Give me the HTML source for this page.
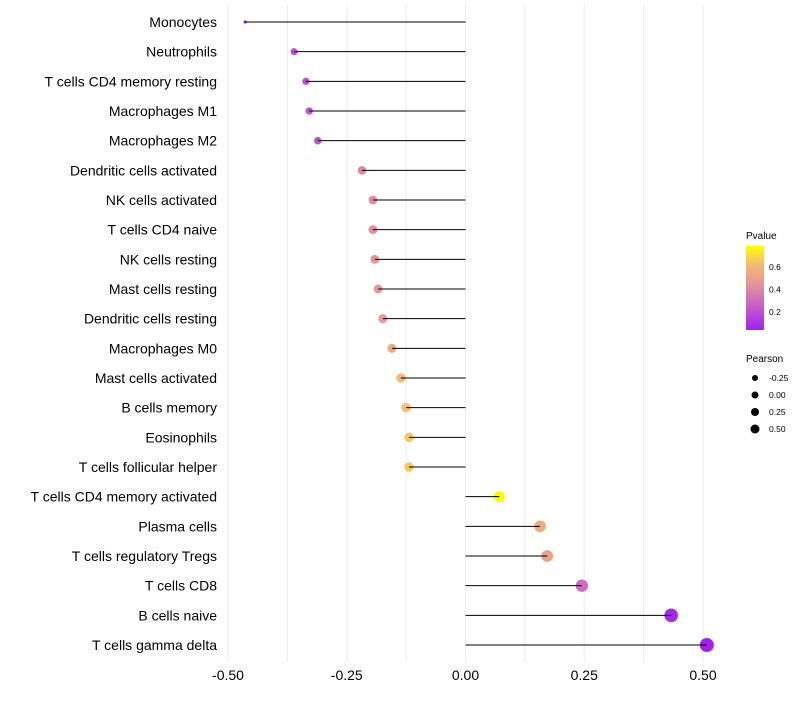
<!DOCTYPE html>
<html><head><meta charset="utf-8"><style>
body{margin:0;background:#fff;font-family:"Liberation Sans",sans-serif}
</style></head><body>
<svg id="c" width="800" height="700" xmlns="http://www.w3.org/2000/svg"></svg>
<script>
const cells=["Monocytes","Neutrophils","T cells CD4 memory resting","Macrophages M1","Macrophages M2","Dendritic cells activated","NK cells activated","T cells CD4 naive","NK cells resting","Mast cells resting","Dendritic cells resting","Macrophages M0","Mast cells activated","B cells memory","Eosinophils","T cells follicular helper","T cells CD4 memory activated","Plasma cells","T cells regulatory  Tregs","T cells CD8","B cells naive","T cells gamma delta"];
const pearson=[-0.464,-0.361,-0.336,-0.329,-0.311,-0.218,-0.195,-0.195,-0.191,-0.184,-0.174,-0.155,-0.136,-0.125,-0.119,-0.119,0.071,0.157,0.172,0.245,0.433,0.508];
const pvals=[0.04,0.2,0.2,0.21,0.22,0.4,0.43,0.43,0.44,0.46,0.48,0.55,0.6,0.64,0.66,0.66,0.78,0.55,0.5,0.3,0.07,0.04];
const xTicks=[-0.5,-0.25,0,0.25,0.5];
const xTickLabels=["-0.50","-0.25","0.00","0.25","0.50"];
const pTicks=[0.2,0.4,0.6];
const rTicks=[-0.25,0,0.25,0.5];
const rTickLabels=["-0.25","0.00","0.25","0.50"];
const NS="http://www.w3.org/2000/svg",svg=document.getElementById('c');
function el(t,a,p){const e=document.createElementNS(NS,t);for(const k in a)e.setAttribute(k,a[k]);(p||svg).appendChild(e);return e;}
const x=v=>465.5+v*475;
const y=i=>22+i*(623/21);
const rad=v=>v<-0.42?1.6:Math.sqrt(Math.max(2,27.6+42.7*v));
const lrad=v=>3.5+v*2;
const stops=[[0,[160,32,240]],[0.33,[204,104,196]],[0.55,[230,150,150]],[0.8,[244,192,110]],[1,[255,255,0]]];
function col(p){const t=Math.max(0,Math.min(1,(p-0.04)/(0.787-0.04)));
 for(let i=1;i<stops.length;i++){if(t<=stops[i][0]){const a=stops[i-1],b=stops[i];const f=(t-a[0])/(b[0]-a[0]);
 return 'rgb('+a[1].map((c,k)=>Math.round(c+(b[1][k]-c)*f))+')';}}return 'rgb(255,255,0)';}
[-0.5,-0.375,-0.25,-0.125,0,0.125,0.25,0.375,0.5].forEach(v=>{const g=el('line',{x1:x(v),x2:x(v),y1:5,y2:662,stroke:'#ebebeb','stroke-width':1});});
xTicks.forEach((v,i)=>{const t=el('text',{x:x(v),y:680,'text-anchor':'middle','font-size':14,fill:'#000'});t.textContent=xTickLabels[i];});
cells.forEach((c,i)=>{
 const t=el('text',{x:217,y:y(i)+5,'text-anchor':'end','font-size':14,fill:'#000'});t.textContent=c;
 
 const d=el('circle',{cx:x(pearson[i]),cy:y(i),r:rad(pearson[i]),fill:col(pvals[i])});
 
 const l=el('line',{x1:x(0),x2:x(pearson[i]),y1:y(i),y2:y(i),stroke:'#000','stroke-width':1});
 
});
const defs=el('defs',{});const lg=el('linearGradient',{id:'g',x1:0,y1:1,x2:0,y2:0},defs);
[0,0.2,0.4,0.6,0.8,1].forEach(o=>el('stop',{offset:o,'stop-color':col(0.04+o*(0.787-0.04))},lg));
let tt=el('text',{x:746,y:239,'font-size':10});tt.textContent='Pvalue';
const bar=el('rect',{x:746,y:246,width:18,height:84,fill:'url(#g)'});
const py=p=>330-(p-0.04)*112.5;
pTicks.forEach(p=>{const t=el('text',{x:769,y:py(p)+3,'font-size':8.5});t.textContent=p.toFixed(1);});
tt=el('text',{x:746,y:362,'font-size':10});tt.textContent='Pearson';
rTicks.forEach((r,i)=>{const yy=378+i*17;const c=el('circle',{cx:755,cy:yy,r:lrad(r),fill:'#000'});
 const t=el('text',{x:769,y:yy+3,'font-size':8.5});t.textContent=rTickLabels[i];});
</script>
</body></html>
